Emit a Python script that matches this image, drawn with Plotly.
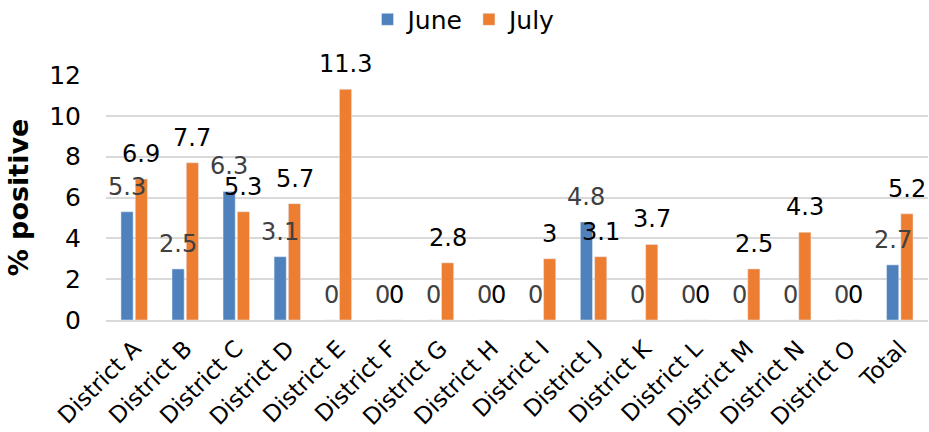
import plotly.graph_objects as go

districts = ["District A", "District B", "District C", "District D", "District E",
             "District F", "District G", "District H", "District I", "District J",
             "District K", "District L", "District M", "District N", "District O",
             "Total"]
june = [5.3, 2.5, 6.3, 3.1, 0, 0, 0, 0, 0, 4.8, 0, 0, 0, 0, 0, 2.7]
july = [6.9, 7.7, 5.3, 5.7, 11.3, 0, 2.8, 0, 3, 3.1, 3.7, 0, 2.5, 4.3, 0, 5.2]

FONT = "DejaVu Sans, Verdana, sans-serif"

fig = go.Figure()
fig.add_trace(go.Bar(x=districts, y=june, name="June", marker_color="#4F81BD"))
fig.add_trace(go.Bar(x=districts, y=july, name="July", marker_color="#ED7D31"))

# data labels drawn on top of all bars (like Excel), one per bar
for name, vals, color, shift in [("June", june, "#404040", -7.2),
                                  ("July", july, "#000000", 7.2)]:
    for d, v in zip(districts, vals):
        fig.add_annotation(
            x=d, y=v, text=f"{v:g}", showarrow=False,
            xshift=shift, yshift=9, yanchor="bottom",
            font=dict(size=24, color=color, family=FONT),
        )

fig.update_layout(
    width=929, height=432,
    margin=dict(l=106, r=1, t=75, b=112, autoexpand=False),
    paper_bgcolor="white", plot_bgcolor="white",
    font=dict(family=FONT, size=24, color="#000000"),
    barmode="group", bargap=0.44, bargroupgap=0.15,
    showlegend=True,
    legend=dict(orientation="h", xref="container", x=0.5, xanchor="center",
                y=1.32, yanchor="top",
                font=dict(size=25), itemwidth=30, traceorder="normal"),
)
fig.update_yaxes(
    range=[0, 12], dtick=2, showgrid=True, gridcolor="#D9D9D9", gridwidth=2,
    zeroline=False, tickfont=dict(size=25), ticklabelstandoff=24,
    title=dict(text="<b>% positive</b>", font=dict(size=27), standoff=12),
    automargin=False,
)
fig.update_xaxes(
    tickangle=-45, tickfont=dict(size=23), showline=True,
    linecolor="#D9D9D9", linewidth=2, showgrid=False, automargin=False,
    ticklabelstandoff=4,
)

# drop the default body margin so the figure sits at the window's corner
fig.write_html("out.html", config={"displayModeBar": False},
               post_script="document.body.style.margin='0';")
